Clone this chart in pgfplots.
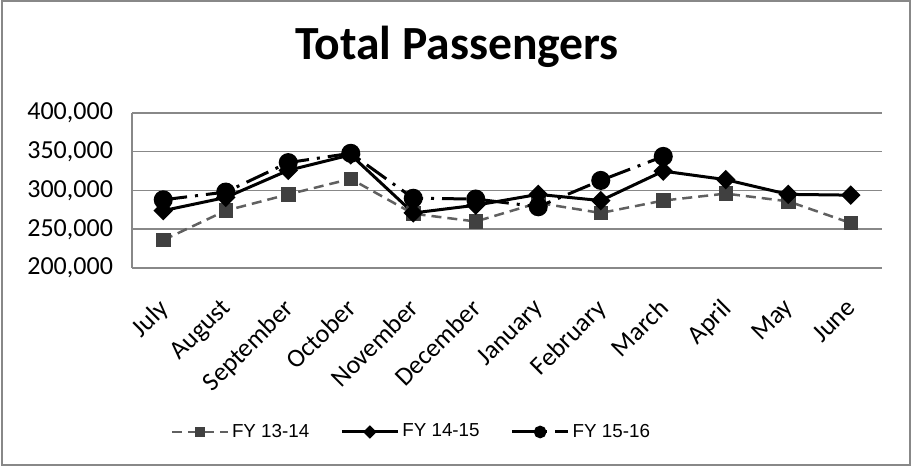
\documentclass[border=0pt]{standalone}
\usepackage{pgfplots}
\pgfplotsset{compat=1.18}
\usepackage{fontspec}
\setmainfont{Carlito}
\newfontfamily\arialfont{Liberation Sans}
\definecolor{gridgray}{HTML}{888888}
\definecolor{sqline}{HTML}{606060}
\definecolor{sqmark}{HTML}{404040}
\begin{document}
\begin{tikzpicture}
\useasboundingbox (0,0) rectangle (455.5pt,233pt);
\draw[gridgray, line width=1pt] (0.8pt,0.6pt) rectangle (454.8pt,232.5pt);
\node[anchor=base, font=\fontsize{23.8}{28}\selectfont\bfseries] at (228.5pt,203pt) {Total Passengers};
\begin{axis}[
  at={(66pt,99pt)}, anchor=south west,
  scale only axis, width=375pt, height=77.5pt,
  xmin=-0.5, xmax=11.5, ymin=200000, ymax=400000,
  xtick={0,...,11},
  xticklabels={July,August,September,October,November,December,January,February,March,April,May,June},
  ytick={200000,250000,300000,350000,400000},
  scaled y ticks=false,
  yticklabel style={/pgf/number format/fixed, /pgf/number format/1000 sep={,}, /pgf/number format/assume math mode=true, font=\fontsize{13}{15}\selectfont, xshift=-6pt},
  xticklabel style={xshift=-3pt, yshift=-13pt, rotate=45, anchor=north east, font=\fontsize{13}{15}\selectfont, inner sep=1pt},
  major tick length=0pt,
  axis x line*=bottom, axis y line*=left,
  axis line style={gridgray, line width=0.8pt},
  ymajorgrids, grid style={gridgray, line width=0.75pt},
  clip=false,
  legend columns=3,
  legend style={draw=none, fill=none, at={(axis description cs:0.373,-1.058)}, anchor=center,
     font=\arialfont\fontsize{9.4}{11}\selectfont,
     /tikz/every even column/.append style={column sep=14pt},
     nodes={inner sep=1.5pt}},
  legend image code/.code={\draw[mark repeat=2,mark phase=2,#1,every mark/.append style={scale=0.6}] plot coordinates {(0pt,0pt)(14pt,0pt)(28pt,0pt)};},
]
\addplot[sqline, line width=1.25pt, dash pattern=on 5pt off 3pt, mark=square*, mark size=3pt, mark options={solid, fill=sqmark, draw=sqmark}]
 coordinates {(0,236000)(1,274000)(2,295000)(3,315000)(4,270000)(5,260000)(6,284000)(7,271000)(8,287000)(9,296000)(10,286000)(11,258000)};
\addlegendentry{FY 13-14}
\addplot[black, line width=1.5pt, mark=square*, mark size=2.7pt, mark options={solid, rotate=45, fill=black}]
 coordinates {(0,274000)(1,291000)(2,326000)(3,346000)(4,271000)(5,281000)(6,295000)(7,287000)(8,325000)(9,314000)(10,295000)(11,294000)};
\addlegendentry{FY 14-15}
\addplot[black, line width=1.5pt, dash pattern=on 12pt off 4pt on 1.5pt off 4pt, mark=*, mark size=4pt, mark options={solid, fill=black}]
 coordinates {(0,288000)(1,298000)(2,336000)(3,348000)(4,290000)(5,289000)(6,279000)(7,313000)(8,344000)};
\addlegendentry{FY 15-16}
\end{axis}
\end{tikzpicture}
\end{document}
